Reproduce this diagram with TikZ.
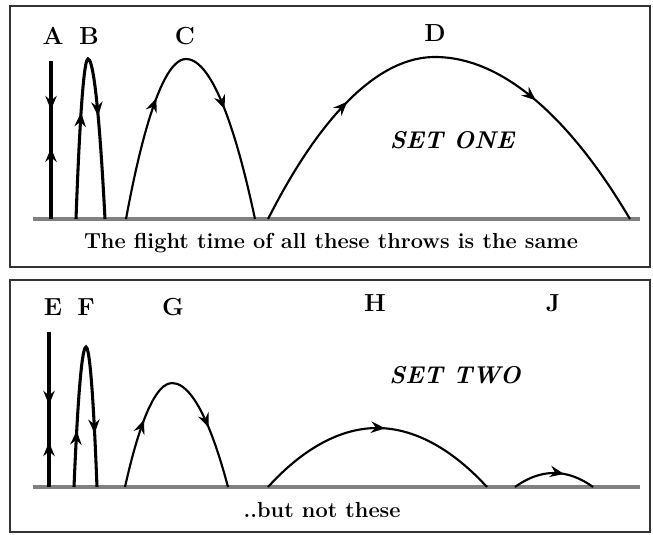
\documentclass[tikz,border=0pt]{standalone}
\usetikzlibrary{arrows.meta,decorations.markings}
\tikzset{
  tipA/.tip={Stealth[length=10.5pt,width=8.5pt,inset=3.5pt]},
  upat/.style={postaction={decorate,decoration={markings,mark=at position #1 with {\arrow{tipA}}}}},
  downat/.style={postaction={decorate,decoration={markings,mark=at position #1 with {\arrowreversed{tipA}}}}},
  thick path/.style={line width=2.3pt,black},
  thin path/.style={line width=1.6pt,black},
  ground/.style={line width=2.4pt,black!50},
  frame/.style={line width=1.1pt,black!80},
  letter/.style={font=\fontsize{18.5}{20}\selectfont\bfseries,inner sep=0pt},
  caption/.style={font=\fontsize{16.3}{19}\selectfont\bfseries,inner sep=0pt},
  setlabel/.style={font=\fontsize{18.2}{20}\selectfont\bfseries\itshape,inner sep=0pt}
}
\begin{document}
\begin{tikzpicture}[x=0.75pt,y=-0.75pt]
\useasboundingbox (0,0) rectangle (653,535);
% frames
\draw[frame] (10,6) rectangle (650,267);
\draw[frame] (10,280) rectangle (650,532);
% ===== SET ONE =====
\coordinate (g1l) at (33,219);
\coordinate (g1r) at (640,219);
\draw[ground] (g1l) -- (g1r);
\node[letter] (lA) at (53,36) {A};
\node[letter] (lB) at (89,36) {B};
\node[letter] (lC) at (185,36) {C};
\node[letter] (lD) at (435,33) {D};
% A
\coordinate (a0) at (51,219); \coordinate (a1) at (51,61);
\draw[thick path,upat=0.45,downat=0.69] (a0) -- (a1);
% B
\coordinate (b0) at (76,219); \coordinate (b1) at (105,219);
\draw[thick path,upat=0.33,upat=0.68] (b0) parabola bend (88,59) (b1);
% C
\coordinate (c0) at (126,219); \coordinate (c1) at (255,219);
\draw[thin path,upat=0.35,upat=0.68] (c0) parabola bend (186,59) (c1);
% D
\coordinate (d0) at (268,219); \coordinate (d1) at (630,219);
\draw[thin path,upat=0.28,upat=0.70] (d0) parabola bend (435,57) (d1);
\node[setlabel] (s1) at (452,140) {SET ONE};
\node[caption] (cap1) at (331,243) {The flight time of all these throws is the same};
% ===== SET TWO =====
\coordinate (g2l) at (33,487);
\coordinate (g2r) at (640,487);
\draw[ground] (g2l) -- (g2r);
\node[letter] (lE) at (53,307) {E};
\node[letter] (lF) at (86,307) {F};
\node[letter] (lG) at (173,307) {G};
\node[letter] (lH) at (375,303) {H};
\node[letter] (lJ) at (553,303) {J};
% E
\coordinate (e0) at (49,487); \coordinate (e1) at (49,332);
\draw[thick path,upat=0.29,downat=0.53] (e0) -- (e1);
% F
\coordinate (f0) at (74,487); \coordinate (f1) at (97,487);
\draw[thick path,upat=0.2,upat=0.81] (f0) parabola bend (86,347) (f1);
% G
\coordinate (gg0) at (125,487); \coordinate (gg1) at (228,487);
\draw[thin path,upat=0.29,upat=0.74] (gg0) parabola bend (172,383) (gg1);
% H
\coordinate (h0) at (268,487); \coordinate (h1) at (487,487);
\draw[thin path,upat=0.53] (h0) parabola bend (377,428) (h1);
% J
\coordinate (j0) at (515,487); \coordinate (j1) at (593,487);
\draw[thin path,upat=0.62] (j0) parabola bend (554,473) (j1);
\node[setlabel] (s2) at (455,375) {SET TWO};
\node[caption] (cap2) at (322,510) {..but not these};
\end{tikzpicture}
\end{document}
